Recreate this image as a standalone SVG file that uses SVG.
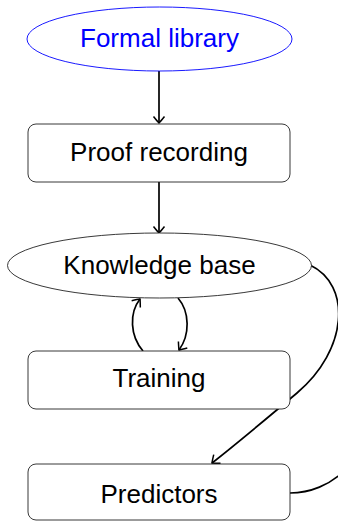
<svg xmlns="http://www.w3.org/2000/svg" width="338" height="521" viewBox="0 0 338 521">
<defs>
<style>
.node{fill:#fff;stroke:#222;stroke-width:0.9}
.lbl{font-family:"Liberation Sans",Arial,sans-serif;font-size:26px;text-anchor:middle;fill:#000}
.edge{fill:none;stroke:#000;stroke-width:1.7}
</style>
<marker id="arr" viewBox="-8 -7 10 14" markerWidth="10" markerHeight="14" refX="0" refY="0" orient="auto" markerUnits="userSpaceOnUse">
<path d="M-6.5,-5.5 Q-1.5,-1.5 0,0 Q-1.5,1.5 -6.5,5.5" fill="none" stroke="#000" stroke-width="1.5"/>
</marker>
</defs>
<g id="edges">
<path class="edge" d="M159,71 L159,123" marker-end="url(#arr)"/>
<path class="edge" d="M159,182 L159,233" marker-end="url(#arr)"/>
<path class="edge" d="M143,351 C130,336 129,313 140,299" marker-end="url(#arr)"/>
<path class="edge" d="M178,298 C190,312 190,335 179,350" marker-end="url(#arr)"/>
<path class="edge" d="M310,265 C352,285 348,350 297,393 S235,445 212,463" marker-end="url(#arr)"/>
<path class="edge" d="M290,493 C310,493 330,485 345,470"/>
</g>
<g id="formal-library">
<ellipse cx="159.5" cy="39" rx="132.5" ry="32" fill="#fff" stroke="#0000ff" stroke-width="0.9"/>
<text class="lbl" x="159.5" y="47" style="fill:#0000ff">Formal library</text>
</g>
<g id="proof-recording">
<rect class="node" x="28" y="124" width="262" height="58" rx="8"/>
<text class="lbl" x="159" y="161">Proof recording</text>
</g>
<g id="knowledge-base">
<ellipse class="node" cx="159.5" cy="265.5" rx="152" ry="32.5"/>
<text class="lbl" x="159.5" y="274">Knowledge base</text>
</g>
<g id="training">
<rect class="node" x="28" y="351" width="262" height="58" rx="8"/>
<text class="lbl" x="159" y="387">Training</text>
</g>
<g id="predictors">
<rect class="node" x="28" y="464" width="262" height="56" rx="8"/>
<text class="lbl" x="159" y="503">Predictors</text>
</g>
</svg>
